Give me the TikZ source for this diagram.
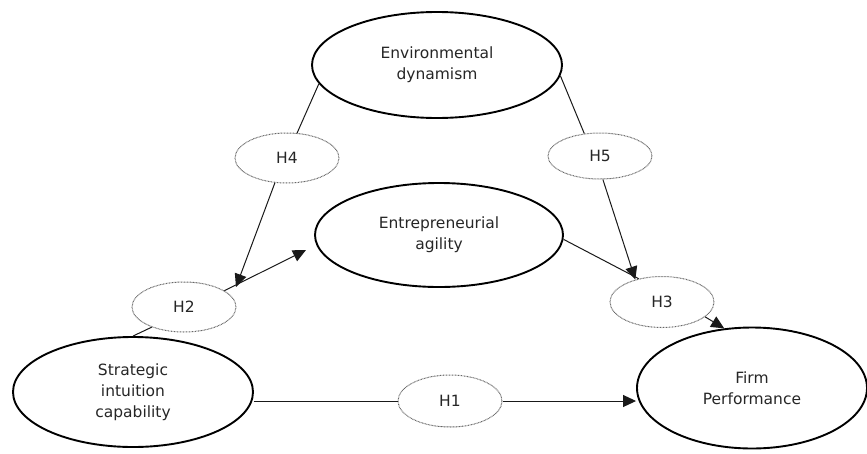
\documentclass[tikz,border=0pt]{standalone}
\usepackage{fontspec}
\setmainfont{DejaVu Sans}
\usetikzlibrary{shapes.geometric,arrows.meta}
\begin{document}
\begin{tikzpicture}[x=1pt,y=-1pt,
 big/.style={ellipse,draw,line width=1.9pt,inner sep=0pt,align=center,font=\fontsize{15.5}{21}\selectfont,text=black!85},
 hyp/.style={ellipse,draw=black!60,line width=1pt,dash pattern=on 0.8pt off 0.7pt,inner sep=0pt,minimum width=104pt,minimum height=50pt,font=\fontsize{15.5}{19}\selectfont,text=black!85},
 conn/.style={line width=1pt,draw=black!90},
 arr/.style={conn,-{Triangle[length=13pt,width=12pt]}}]
\useasboundingbox (0,0) rectangle (867,453);
\node[big,minimum width=250pt,minimum height=106pt] (env) at (437,65) {Environmental\\dynamism};
\node[big,minimum width=248pt,minimum height=104pt] (agil) at (439,235) {Entrepreneurial\\agility};
\node[big,minimum width=240pt,minimum height=110pt] (sic) at (133,392) {Strategic\\intuition\\capability};
\node[big,minimum width=230pt,minimum height=121pt] (firm) at (752,388) {Firm\\Performance};
\node[hyp] (H4) at (287,158) {H4};
\node[hyp,minimum height=46pt] (H5) at (600,156) {H5};
\node[hyp] (H2) at (184,307) {H2};
\node[hyp,minimum height=51pt] (H3) at (662,302) {H3};
\node[hyp,minimum height=52pt] (H1) at (450,401) {H1};
\coordinate (t4) at (236,287);
\coordinate (t2) at (306,250);
\draw[conn] (env.189) -- (H4.68);
\draw[arr] (H4.244) -- (t4);
\draw[arr] (H2.22) -- (t2);
\draw[conn] (H2.212) -- (sic.90);
\draw[conn] (env.355) -- (H5.125);
\draw[arr] (H5.277) -- (H3.140);
\draw[conn] (agil.358) -- (H3.135);
\draw[arr] (H3.341) -- (firm.115);
\draw[conn] (sic.east |- H1.west) -- (H1.west);
\draw[arr] (H1.east) -- (H1.east -| firm.west);
\end{tikzpicture}
\end{document}
